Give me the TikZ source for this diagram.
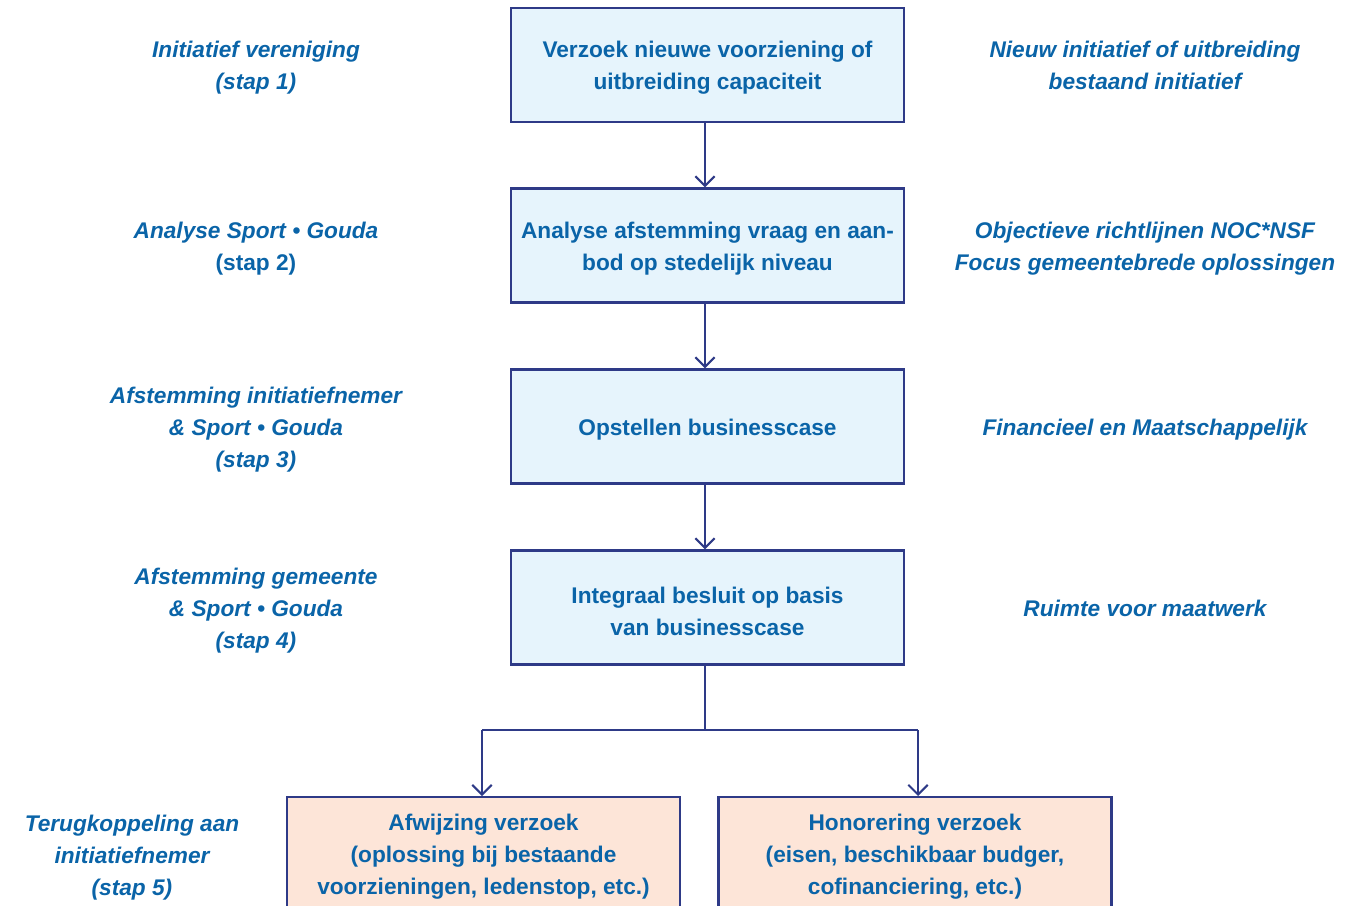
\documentclass[tikz,border=0pt]{standalone}
\usepackage{fontspec}
\setmainfont{Liberation Sans}
\usetikzlibrary{arrows.meta}
\definecolor{navy}{RGB}{46,58,135}
\definecolor{txtblue}{RGB}{10,100,168}
\definecolor{boxblue}{RGB}{230,244,252}
\definecolor{boxpeach}{RGB}{253,229,216}
\tikzset{
  px/.style={x=0.02cm,y=-0.02cm},
  txt/.style={font=\fontsize{12.9}{18.2}\selectfont\bfseries, text=txtblue, align=center, inner sep=0pt},
  lbl/.style={txt, font=\fontsize{12.9}{18.2}\selectfont\bfseries\itshape},
  stepbox/.style={draw=navy, line width=1.3pt, fill=boxblue, minimum width=7.86cm, minimum height=2.28cm, inner sep=0pt},
  endbox/.style={draw=navy, line width=1.3pt, fill=boxpeach, minimum width=7.86cm, minimum height=3.2cm, inner sep=0pt},
  conn/.style={draw=navy, line width=1.2pt},
  arr/.style={conn, -{Straight Barb[length=5.5pt,width=11pt,line width=1.2pt]}}
}
\begin{document}
\begin{tikzpicture}[px]
\useasboundingbox (0,0) rectangle (1370,906);
\clip (0,0) rectangle (1370,906);
% main boxes
\node[stepbox] (b1) at (707.5,65) {};
\node[txt] (t1) at (707.5,68) {Verzoek nieuwe voorziening of\\uitbreiding capaciteit};
\node[stepbox] (b2) at (707.5,245.5) {};
\node[txt] (t2) at (707.5,249) {Analyse afstemming vraag en aan-\\bod op stedelijk niveau};
\node[stepbox] (b3) at (707.5,426.5) {};
\node[txt] (t3) at (707.5,430) {Opstellen businesscase};
\node[stepbox] (b4) at (707.5,607.5) {};
\node[txt] (t4) at (707.5,611) {Integraal besluit op basis\\van businesscase};
% end boxes (cut at bottom)
\node[endbox, anchor=north] (b5) at (483.5,796) {};
\node[txt, anchor=north] (t5) at (483.5,814) {Afwijzing verzoek\\(oplossing bij bestaande\\voorzieningen, ledenstop, etc.)};
\node[endbox, anchor=north] (b6) at (915,796) {};
\node[txt, anchor=north] (t6) at (915,814) {Honorering verzoek\\(eisen, beschikbaar budger,\\cofinanciering, etc.)};
% connectors
\draw[arr] (b1.south -| 705,0) -- (b2.north -| 705,0);
\draw[arr] (b2.south -| 705,0) -- (b3.north -| 705,0);
\draw[arr] (b3.south -| 705,0) -- (b4.north -| 705,0);
\coordinate (split) at (705,730);
\coordinate (sl) at (482,730);
\coordinate (sr) at (918,730);
\draw[conn] (b4.south -| split) -- (split);
\draw[conn] (sl) -- (sr);
\draw[arr] (sl) -- (sl |- b5.north);
\draw[arr] (sr) -- (sr |- b6.north);
% left labels
\node[lbl] (l1) at (256,68) {Initiatief vereniging\\(stap 1)};
\node[lbl] (l2) at (256,249) {Analyse Sport \textbullet{} Gouda\\\upshape(stap 2)};
\node[lbl] (l3) at (256,430) {Afstemming initiatiefnemer\\\& Sport \textbullet{} Gouda\\(stap 3)};
\node[lbl] (l4) at (256,611) {Afstemming gemeente\\\& Sport \textbullet{} Gouda\\(stap 4)};
\node[lbl] (l5) at (132,858) {Terugkoppeling aan\\initiatiefnemer\\(stap 5)};
% right labels
\node[lbl] (r1) at (1145,65) {Nieuw initiatief of uitbreiding\\bestaand initiatief};
\node[lbl] (r2) at (1145,249) {Objectieve richtlijnen NOC*NSF\\Focus gemeentebrede oplossingen};
\node[lbl] (r3) at (1145,430) {Financieel en Maatschappelijk};
\node[lbl] (r4) at (1145,608) {Ruimte voor maatwerk};
\end{tikzpicture}
\end{document}
